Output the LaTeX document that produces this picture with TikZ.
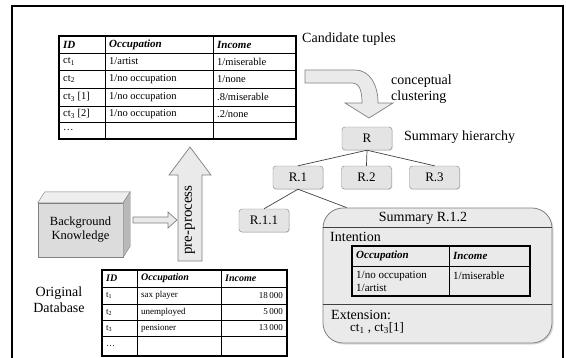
\documentclass[tikz,border=0pt]{standalone}
\usepackage{fontspec}
\setmainfont{Liberation Serif}
\usetikzlibrary{calc,shadows}
\definecolor{boxgray}{HTML}{EAEAEA}
\definecolor{nodegray}{HTML}{E4E4E4}
\definecolor{edgegray}{HTML}{808080}
\definecolor{linegray}{HTML}{404040}
\definecolor{frontgray}{HTML}{DCDCDC}
\definecolor{topgray}{HTML}{EEEEEE}
\definecolor{sidegray}{HTML}{B8B8B8}
\begin{document}
\begin{tikzpicture}[x=1pt,y=-1pt,
  tbl/.style={draw=black,line width=1.4pt},
  tblline/.style={draw=black,line width=0.7pt},
  cell/.style={anchor=west,inner sep=0pt,font=\fontsize{10.5}{11}\selectfont},
  hcell/.style={anchor=west,inner sep=0pt,font=\fontsize{11}{12}\selectfont\bfseries\itshape},
  bcell/.style={anchor=west,inner sep=0pt,font=\fontsize{9}{10}\selectfont},
  bhcell/.style={anchor=west,inner sep=0pt,font=\fontsize{10}{11}\selectfont\bfseries\itshape},
  icell/.style={anchor=west,inner sep=0pt,font=\fontsize{11}{12}\selectfont},
  ihcell/.style={anchor=west,inner sep=0pt,font=\fontsize{11}{12}\selectfont\bfseries\itshape},
  label/.style={inner sep=0pt,font=\fontsize{14}{16}\selectfont},
  treenode/.style={draw=edgegray,fill=nodegray,rounded corners=3pt,minimum width=50pt,minimum height=23pt,inner sep=0pt,font=\fontsize{13}{14}\selectfont,drop shadow={shadow xshift=0.8pt,shadow yshift=-0.8pt,fill=gray!50}},
  treeline/.style={draw=linegray,line width=0.7pt},
  hollow/.style={draw=edgegray,fill=boxgray,line width=0.7pt},
  sumbox/.style={draw=edgegray,fill=boxgray,rounded corners=20pt,minimum width=229pt,minimum height=135pt,inner sep=0pt,line width=0.8pt,drop shadow={shadow xshift=1.5pt,shadow yshift=-1.5pt,fill=gray!55}},
  bgbox/.style={draw=edgegray,fill=frontgray,minimum width=85pt,minimum height=54pt,inner sep=0pt,align=center,font=\fontsize{12.5}{14}\selectfont}
]
\useasboundingbox (0,0) rectangle (566,357);
% outer frame
\draw[line width=1.3pt] (12,360) -- (12,6) -- (563,6) -- (563,360);

% ---------- candidate tuples table ----------
\filldraw[fill=white,tbl] (59,36) rectangle (296,139);
\foreach \yy in {53,70,88,106,122} \draw[tblline] (59,\yy) -- (296,\yy);
\foreach \xx in {105,213} \draw[tblline] (\xx,36) -- (\xx,139);
\node[hcell] (ch1) at (63,44.5) {ID};
\node[hcell] (ch2) at (109,44.5) {Occupation};
\node[hcell] (ch3) at (217,44.5) {Income};
\node[cell] (c11) at (63,61.5) {ct\textsubscript{1}};
\node[cell] (c12) at (109,61.5) {1/artist};
\node[cell] (c13) at (217,61.5) {1/miserable};
\node[cell] (c21) at (63,79) {ct\textsubscript{2}};
\node[cell] (c22) at (109,79) {1/no occupation};
\node[cell] (c23) at (217,79) {1/none};
\node[cell] (c31) at (63,97) {ct\textsubscript{3} [1]};
\node[cell] (c32) at (109,97) {1/no occupation};
\node[cell] (c33) at (217,97) {.8/miserable};
\node[cell] (c41) at (63,114) {ct\textsubscript{3} [2]};
\node[cell] (c42) at (109,114) {1/no occupation};
\node[cell] (c43) at (217,114) {.2/none};
\node[cell] (c51) at (63,130.5) {\dots};
\node[label,anchor=west] (cand) at (302,39) {Candidate tuples};

% ---------- conceptual clustering arrow ----------
\filldraw[hollow] (305,70) -- (355,70) .. controls (370,70) and (378,85) .. (378,103)
  -- (393,103) -- (369,118) -- (345,103) -- (362,103)
  .. controls (362,92) and (360,83) .. (352,83) -- (305,83) -- cycle;
\node[label,anchor=west,align=left] (cc) at (391,89.5) {conceptual\\clustering};

% ---------- hierarchy ----------
\node[treenode] (R) at (367,138.5) {R};
\node[label,anchor=west] (sh) at (404,137) {Summary hierarchy};
\node[treenode] (R1) at (298,177.5) {R.1};
\node[treenode] (R2) at (366.5,177.5) {R.2};
\node[treenode] (R3) at (434.5,177.5) {R.3};
\node[treenode] (R11) at (264,220.5) {R.1.1};
\node[sumbox] (s) at (437.5,275.5) {};
\coordinate (sTop) at ($(s.north west)+(24,0)$);
\draw[treeline] (R.south) -- (R1.north);
\draw[treeline] (R.south) -- (R2.north);
\draw[treeline] (R.south) -- (R3.north);
\draw[treeline] (R1.south) -- (R11.north);
\draw[treeline] (R1.south) -- (sTop);

% ---------- summary R.1.2 ----------
\node[label] (st) at (423,218) {Summary R.1.2};
\draw[draw=linegray,line width=0.8pt] ($(s.north west)+(0,20)$) -- ($(s.north east)+(0,20)$);
\draw[draw=linegray,line width=0.8pt] ($(s.south west)+(0,-39)$) -- ($(s.south east)+(0,-39)$);
\node[label,anchor=west] (int) at (330,237) {Intention};
\draw[tbl] (352,246) rectangle (530,296);
\draw[tblline] (352,266) -- (530,266);
\draw[tblline] (449,246) -- (449,296);
\node[ihcell] (ih1) at (356,256) {Occupation};
\node[ihcell] (ih2) at (453,256) {Income};
\node[icell] (ib1) at (356,276) {1/no occupation};
\node[icell] (ib2) at (356,288) {1/artist};
\node[icell] (ib3) at (453,276) {1/miserable};
\node[label,anchor=west] (ext) at (331,315) {Extension:};
\node[label,anchor=west,font=\fontsize{13}{14}\selectfont] (extv) at (350,328) {ct\textsubscript{1} , ct\textsubscript{3}[1]};

% ---------- background knowledge ----------
\node[bgbox] (bk) at (80.5,230) {Background\\Knowledge};
\filldraw[draw=edgegray,fill=topgray] (bk.north west) -- ++(7,-11) -- ($(bk.north east)+(7,-11)$) -- (bk.north east) -- cycle;
\filldraw[draw=edgegray,fill=sidegray] (bk.north east) -- ++(7,-11) -- ($(bk.south east)+(7,-11)$) -- (bk.south east) -- cycle;
\filldraw[hollow] (133,217) -- (168,217) -- (168,212) -- (177,220) -- (168,228) -- (168,223) -- (133,223) -- cycle;

% ---------- pre-process arrow ----------
\filldraw[hollow] (178,261) -- (178,175) -- (169,175) -- (190,147) -- (211,175) -- (202,175) -- (202,261) -- cycle;
\node[rotate=90,inner sep=0pt,font=\fontsize{15}{16}\selectfont] (pp) at (190,220) {pre-process};

% ---------- original database ----------
\node[label,align=center] (od) at (59,300) {Original\\Database};
\filldraw[fill=white,tbl] (102,270) rectangle (287,356);
\foreach \yy in {287,304,320,336} \draw[tblline] (102,\yy) -- (287,\yy);
\foreach \xx in {137,221} \draw[tblline] (\xx,270) -- (\xx,356);
\node[bhcell] (oh1) at (106,278.5) {ID};
\node[bhcell] (oh2) at (141,278.5) {Occupation};
\node[bhcell] (oh3) at (225,278.5) {Income};
\node[bcell] (o11) at (106,295.5) {t\textsubscript{1}};
\node[bcell] (o12) at (141,295.5) {sax player};
\node[bcell,anchor=east] (o13) at (283,295.5) {18\,000};
\node[bcell] (o21) at (106,312) {t\textsubscript{2}};
\node[bcell] (o22) at (141,312) {unemployed};
\node[bcell,anchor=east] (o23) at (283,312) {5\,000};
\node[bcell] (o31) at (106,328) {t\textsubscript{3}};
\node[bcell] (o32) at (141,328) {pensioner};
\node[bcell,anchor=east] (o33) at (283,328) {13\,000};
\node[bcell] (o41) at (106,346) {\dots};
\end{tikzpicture}
\end{document}
